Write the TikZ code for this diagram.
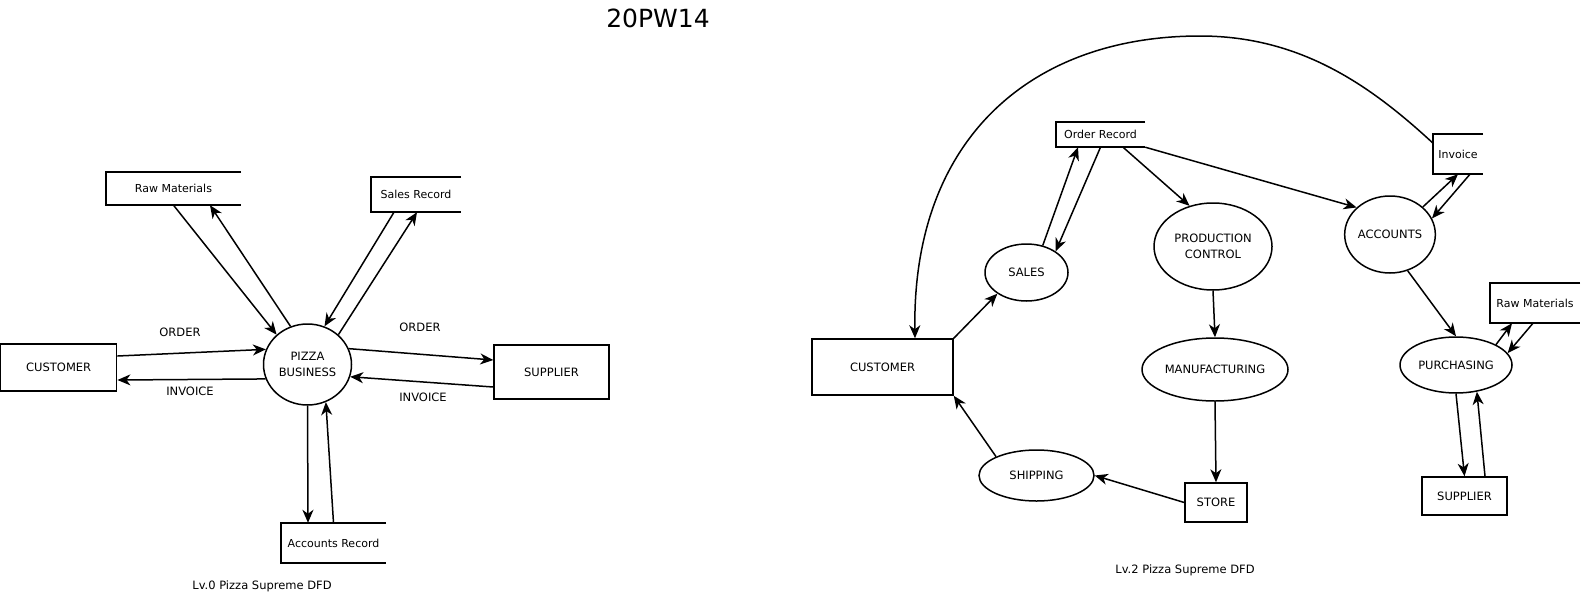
\documentclass[tikz,border=0pt]{standalone}
\usepackage{fontspec}
\setmainfont{DejaVu Sans}
\usetikzlibrary{shapes.geometric,arrows.meta}

\begin{document}
\begin{tikzpicture}[x=1pt,y=-1pt,
    font=\fontsize{11.5}{15.5}\selectfont,
    every node/.style={inner sep=0pt, align=center},
    proc/.style={ellipse, draw, line width=1.5pt},
    ext/.style={rectangle, draw, line width=1.5pt},
    dstore/.style={rectangle, font=\fontsize{11}{13}\selectfont},
    flow/.style={line width=1.5pt, -{Stealth[length=13pt,width=11pt,inset=4pt]}}]
  \useasboundingbox (0,0) rectangle (1581,597);

  \node (title) at (658,18) {\fontsize{25}{30}\selectfont 20PW14};

  % level 0
  \node[ext, minimum width=116pt, minimum height=47pt] (custL) at (58.7,367.5) {CUSTOMER};
  \node[proc, minimum width=88pt, minimum height=81pt] (pizza) at (307.5,364.5) {PIZZA\\BUSINESS};
  \node[ext, minimum width=115pt, minimum height=54pt] (supL) at (551.5,372) {SUPPLIER};
  \node[dstore, minimum width=135pt, minimum height=33pt] (rawL) at (173.5,188.5) {Raw Materials};
  \node[dstore, minimum width=90pt, minimum height=35pt] (salesRec) at (416,194.5) {Sales Record};
  \node[dstore, minimum width=105pt, minimum height=40pt] (accRec) at (333.5,543) {Accounts Record};

  \node (ordL) at (180,332) {ORDER};
  \node (invL) at (190,391) {INVOICE};
  \node (ordS) at (420,327) {ORDER};
  \node (invS) at (423,397) {INVOICE};
  \node (cap0) at (262,586) {Lv.0 Pizza Supreme DFD};

  % level 2
  \node[ext, minimum width=141pt, minimum height=56pt] (cust2) at (882.5,367) {CUSTOMER};
  \node[proc, minimum width=83pt, minimum height=57pt] (sales) at (1026.5,272.5) {SALES};
  \node[proc, minimum width=118pt, minimum height=87pt] (prodCtl) at (1213,246.5) {PRODUCTION\\CONTROL};
  \node[proc, minimum width=88pt, minimum height=77pt] (accts) at (1390,234.5) {ACCOUNTS};
  \node[proc, minimum width=146pt, minimum height=63pt] (manuf) at (1215,369.5) {MANUFACTURING};
  \node[proc, minimum width=115pt, minimum height=51pt] (shipping) at (1036.5,475.5) {SHIPPING};
  \node[ext, minimum width=62pt, minimum height=39pt] (store) at (1216,502.5) {STORE};
  \node[proc, minimum width=112pt, minimum height=56pt] (purch) at (1456,365) {PURCHASING};
  \node[ext, minimum width=85pt, minimum height=38pt] (supR) at (1464.5,496) {SUPPLIER};
  \node[dstore, minimum width=89pt, minimum height=25pt] (ordRec) at (1100.5,134.5) {Order Record};
  \node[dstore, minimum width=50pt, minimum height=40pt] (inv) at (1458,154) {Invoice};
  \node[dstore, minimum width=90pt, minimum height=40pt] (rawR) at (1535,303) {Raw Materials};

  \node (cap2) at (1185,570) {Lv.2 Pizza Supreme DFD};

  % open-ended data stores
  \foreach \s in {rawL,salesRec,accRec,ordRec,inv,rawR}
    \draw[line width=1.5pt] (\s.north east) -| (\s.south west) -- (\s.south east);

  % flows, level 0
  \draw[flow] ([yshift=11.5pt]custL.east) -- (pizza.160);
  \draw[flow] (pizza.199) -- ([yshift=-12.5pt]custL.east);
  \draw[flow] (rawL.south) -- (pizza.136);
  \draw[flow] (pizza.114) -- ([xshift=36.5pt]rawL.south);
  \draw[flow] ([xshift=-22pt]salesRec.south) -- (pizza.66);
  \draw[flow] (pizza.44) -- ([xshift=1pt]salesRec.south);
  \draw[flow] (pizza.21) -- ([yshift=12pt]supL.west);
  \draw[flow] ([yshift=-15pt]supL.west) -- (pizza.344);
  \draw[flow] (pizza.south) -- ([xshift=-25.5pt]accRec.north);
  \draw[flow] (accRec.north) -- (pizza.296);

  % flows, level 2
  \draw[flow] (cust2.north east) -- (sales.216);
  \draw[flow] (shipping.155) -- (cust2.south east);
  \draw[flow] (store.west) -- (shipping.east);
  \draw[flow] (manuf.south) -- (store.north);
  \draw[flow] (prodCtl.south) -- (manuf.north);
  \draw[flow] (sales.59) -- ([xshift=-22.5pt]ordRec.south);
  \draw[flow] (ordRec.south) -- (sales.36);
  \draw[flow] ([xshift=22.5pt]ordRec.south) -- (prodCtl.120);
  \draw[flow] (ordRec.south east) -- (accts.141);
  \draw[flow] (accts.40) -- (inv.south);
  \draw[flow] ([xshift=12pt]inv.south) -- (accts.21);
  \draw[flow] (accts.296) -- (purch.north);
  \draw[flow] (purch.27) -- ([xshift=-23pt]rawR.south);
  \draw[flow] ([xshift=-2pt]rawR.south) -- (purch.13);
  \draw[flow] (purch.south) -- (supR.north);
  \draw[flow] ([xshift=20.5pt]supR.north) -- (purch.308);
  \draw[flow] ([yshift=11pt]inv.west) .. controls (1370,85) and (1300,36) .. (1200,36)
    .. controls (1030,36) and (912,140) .. ([xshift=32.5pt]cust2.north);
\end{tikzpicture}
\end{document}
